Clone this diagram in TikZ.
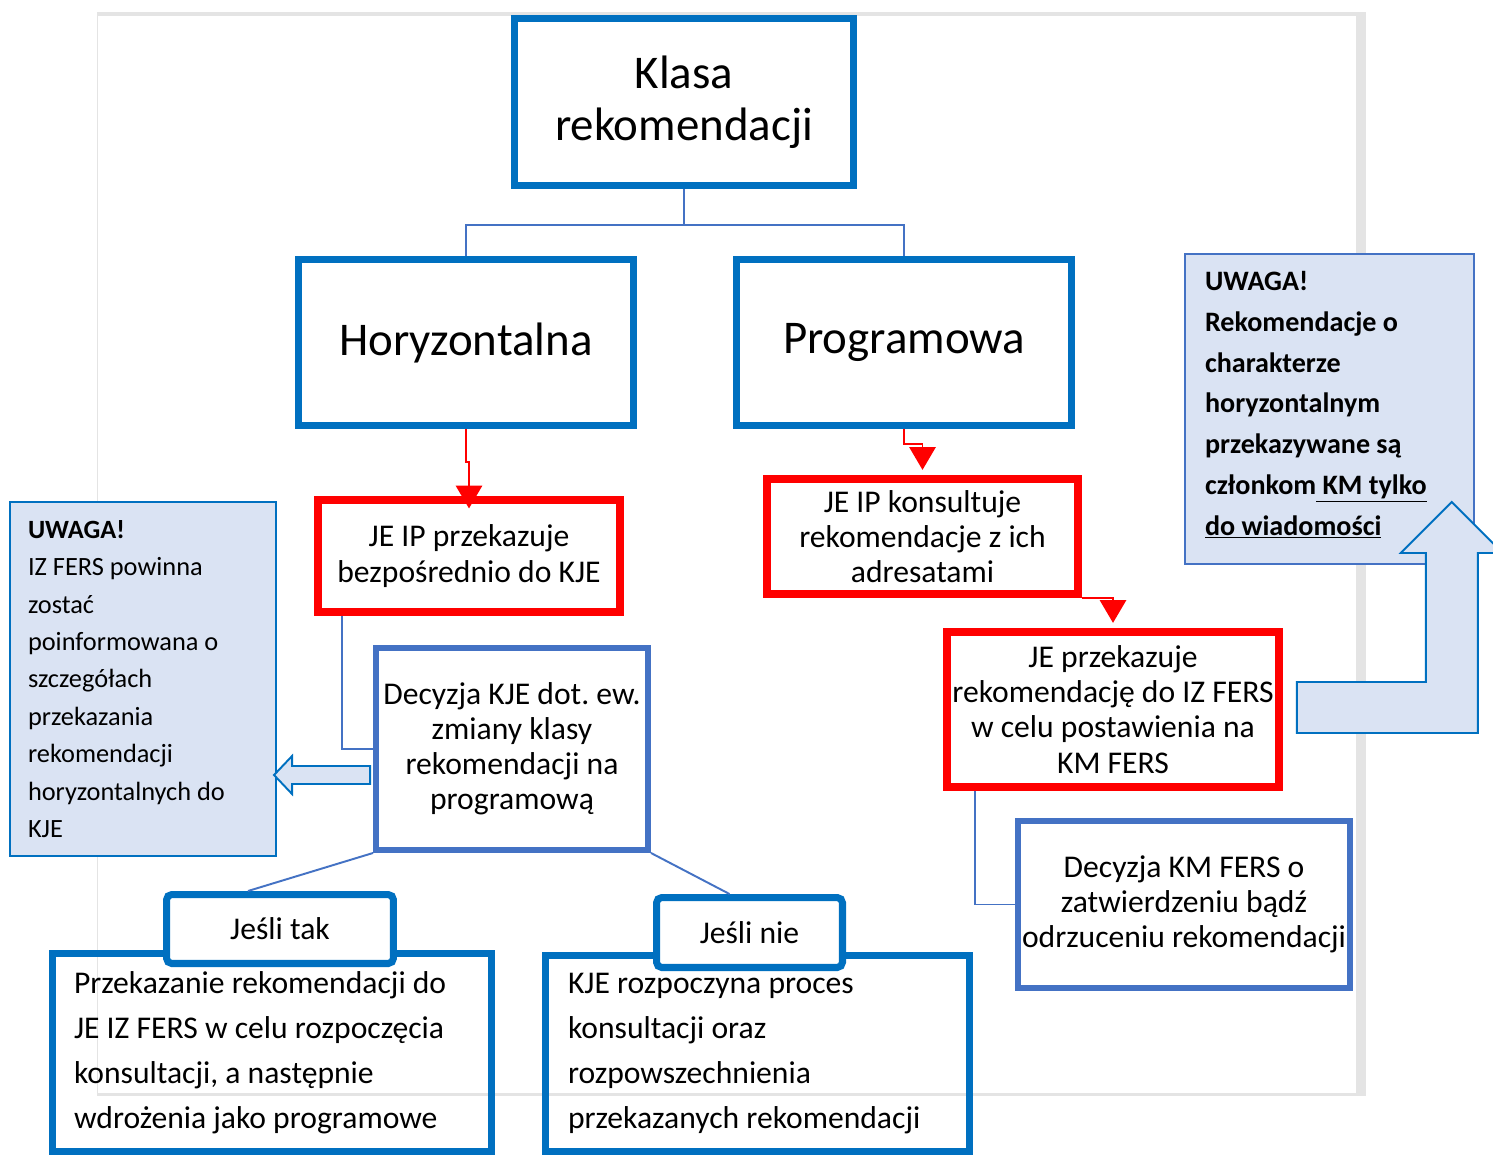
\documentclass[tikz,border=0pt]{standalone}
\usepackage{fontspec}
\setmainfont{Carlito}
\usetikzlibrary{arrows.meta, positioning, calc}
\definecolor{mainblue}{HTML}{0070C0}
\definecolor{kjeblue}{HTML}{4472C4}
\definecolor{notefill}{HTML}{DAE3F3}
\definecolor{framegray}{HTML}{E4E4E4}
\frenchspacing

\begin{document}
\begin{tikzpicture}[x=0.02cm, y=-0.02cm,
        box/.style={draw=mainblue, line width=4pt, align=center, inner sep=0pt},
        bigtext/.style={font=\fontsize{26.7}{29.5}\selectfont},
        midtext/.style={font=\fontsize{18}{20}\selectfont},
        redbox/.style={draw=red, line width=4.4pt, align=center, inner sep=0pt, midtext},
        kjebox/.style={draw=kjeblue, line width=3.4pt, align=center, inner sep=0pt, midtext},
        tab/.style={draw=mainblue, line width=4pt, fill=white, rounded corners=3pt, inner sep=0pt, midtext},
        outbox/.style={draw=mainblue, line width=4pt, align=flush left, inner ysep=0pt, font=\fontsize{18}{25.5}\selectfont},
        note/.style={fill=notefill, line width=1.1pt, align=flush left, inner ysep=0pt},
        tree/.style={draw=kjeblue, line width=1.1pt},
        redflow/.style={draw=red, line width=1.1pt, -{Triangle[width=15pt,length=13pt]}},
        hollow/.style={draw=mainblue, line width=1.1pt, fill=notefill}
    ]
        \useasboundingbox (0,0) rectangle (1493,1156);
        % Frame
        \fill[framegray] (97,12) rectangle (1366,1096);
        \fill[white] (98,16) rectangle (1356,1093);

        % Nodes
        \node[box, bigtext, minimum width=6.78cm, minimum height=3.34cm] (klasa) at (684,102) {Klasa\\rekomendacji};
        \node[box, bigtext, minimum width=6.7cm, minimum height=3.32cm] (hor) at (466,342.5) {Horyzontalna};
        \node[box, bigtext, minimum width=6.7cm, minimum height=3.32cm] (prog) at (904,342.5) {Programowa};

        \node[redbox, minimum width=6.04cm, minimum height=2.24cm] (jeip1) at (469,556) {JE IP przekazuje\\bezpośrednio do KJE};
        \node[redbox, minimum width=6.22cm, minimum height=2.3cm] (jeip2) at (922.5,536.5) {JE IP konsultuje\\rekomendacje z ich\\adresatami};
        \node[redbox, minimum width=6.64cm, minimum height=3.1cm] (jefers) at (1113,709.5) {JE przekazuje\\rekomendację do IZ FERS\\w celu postawienia na\\KM FERS};

        \node[kjebox, minimum width=5.44cm, minimum height=4.04cm] (deckje) at (512,749) {Decyzja KJE dot. ew.\\zmiany klasy\\rekomendacji na\\programową};
        \node[kjebox, minimum width=6.64cm, minimum height=3.34cm] (deckm) at (1184,904.5) {Decyzja KM FERS o\\zatwierdzeniu bądź\\odrzuceniu rekomendacji};

        \node[note, draw=mainblue, minimum height=7.08cm, inner xsep=0.36cm, text width=4.6cm,
              font=\fontsize{15}{21.3}\selectfont] (notel) at (143,679)
             {\textbf{UWAGA!}\\IZ FERS powinna\\zostać\\poinformowana o\\szczegółach\\przekazania\\rekomendacji\\horyzontalnych do\\KJE};
        \node[note, draw=kjeblue, minimum height=6.2cm, inner xsep=0.4cm, text width=4.98cm, text depth=145.8pt,
              font=\bfseries\fontsize{16}{23.2}\selectfont] (noter) at (1329.5,409)
             {UWAGA!\\Rekomendacje o\\charakterze\\horyzontalnym\\przekazywane są\\członkom\underline{\ KM tylko}\\\underline{do wiadomości}};

        \node[outbox, minimum height=3.97cm, inner xsep=0.43cm, text width=7.92cm] (yesbox) at (272,1052.7)
             {Przekazanie rekomendacji do\\JE IZ FERS w celu rozpoczęcia\\konsultacji, a następnie\\wdrożenia jako programowe};
        \node[outbox, minimum height=3.93cm, inner xsep=0.45cm, text width=7.58cm] (nobox) at (757.5,1053.7)
             {KJE rozpoczyna proces\\konsultacji oraz\\rozpowszechnienia\\przekazanych rekomendacji};
        \node[tab, minimum width=4.54cm, minimum height=1.38cm] (tak) at (280,929) {Jeśli tak};
        \node[tab, minimum width=3.72cm, minimum height=1.4cm] (nie) at (749.5,932.5) {Jeśli nie};

        % Lines
        \draw[tree] (klasa.south) -- ++(0,36) -| (hor.north);
        \draw[tree] (klasa.south) -- ++(0,36) -| (prog.north);
        \draw[tree] ($(jeip1.south west)+(28,0)$) |- (deckje.west);
        \draw[tree] ($(jefers.south west)+(32,0)$) |- (deckm.west);
        \draw[tree] (deckje.south west) -- ($(tak.north)+(-32,0)$);
        \draw[tree] (deckje.south east) -- ($(nie.north)+(-20,0)$);

        % Flow
        \draw[redflow, shorten >=-7pt] (hor.south) -- ++(0,33) -| (jeip1.north);
        \draw[redflow, shorten >=3pt] (prog.south) -- ++(0,15) -| (jeip2.north);
        \draw[redflow, shorten >=3pt] (jeip2.south east) -| (jefers.north);

        % Block arrows
        \draw[hollow] ($(deckje.west)+(-3,17)$) -- ++(-78,0) -- ++(0,-10) -- ++(-18,19)
            -- ++(18,19) -- ++(0,-10) -- ++(78,0) -- cycle;
        \draw[hollow] ($(jefers.east)+(14,-27.5)$) -- ++(129,0) -- ++(0,-129) -- ++(-25,0)
            -- ++(51,-51) -- ++(51,51) -- ++(-25,0) -- ++(0,180) -- ++(-181,0) -- cycle;
    \end{tikzpicture}
\end{document}
